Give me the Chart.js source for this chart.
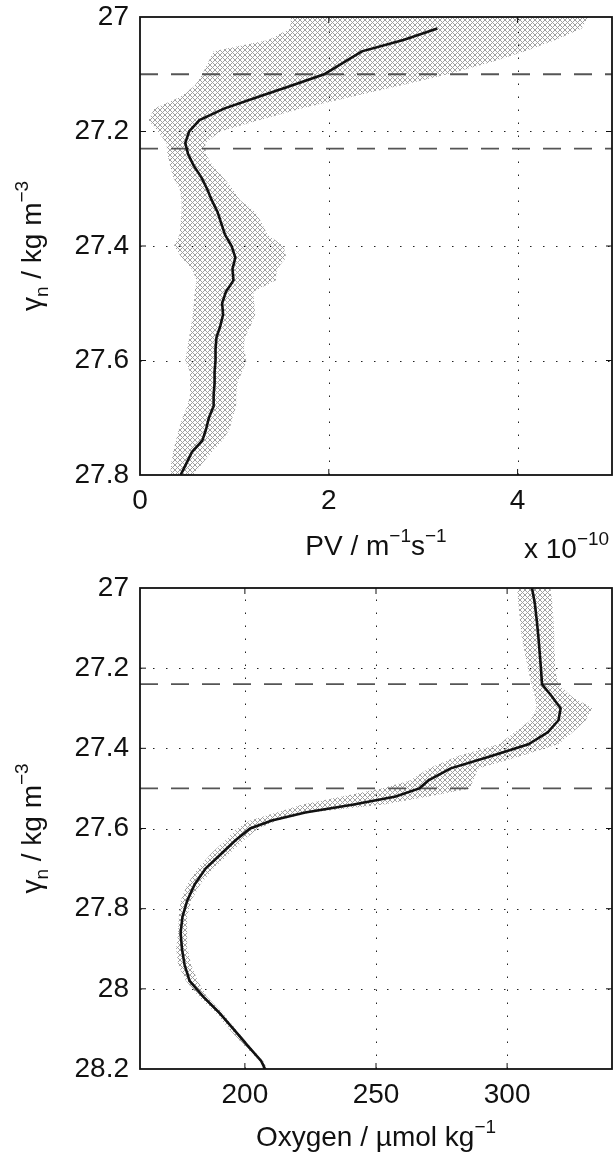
<!DOCTYPE html>
<html>
<head>
<meta charset="utf-8">
<script src="https://cdn.jsdelivr.net/npm/chart.js@4.4.0/dist/chart.umd.min.js"></script>
<style>
  html, body { margin: 0; padding: 0; background: #fff; }
  canvas { position: absolute; left: 0; }
</style>
</head>
<body>
<canvas id="pvChart" width="613" height="560" style="top:0"></canvas>
<canvas id="o2Chart" width="613" height="593" style="top:560px"></canvas>
<script>
const FONT = '"Liberation Sans", Arial, Helvetica, sans-serif';

// top panel: PV against neutral density
const pvGamma = [27.00, 27.02, 27.04, 27.06, 27.08, 27.10, 27.12, 27.14, 27.16, 27.18,
                 27.20, 27.22, 27.24, 27.26, 27.28, 27.30, 27.32, 27.34, 27.36, 27.38,
                 27.40, 27.42, 27.44, 27.46, 27.48, 27.50, 27.52, 27.54, 27.56, 27.58,
                 27.60, 27.62, 27.64, 27.66, 27.68, 27.70, 27.72, 27.74, 27.76, 27.78, 27.80];
const pvMean = [null, 3.15, 2.79, 2.35, 2.15, 1.95, 1.60, 1.24, 0.89, 0.63,
                0.52, 0.48, 0.51, 0.57, 0.65, 0.71, 0.76, 0.82, 0.86, 0.90,
                0.97, 1.01, 0.98, 0.99, 0.91, 0.87, 0.88, 0.85, 0.81, 0.80,
                0.80, 0.79, 0.79, 0.78, 0.78, 0.73, 0.70, 0.66, 0.55, 0.49, 0.43];
const pvLow = [1.60, 1.59, 1.36, 0.78, 0.72, 0.66, 0.58, 0.42, 0.15, 0.09,
               0.19, 0.28, 0.29, 0.32, 0.35, 0.42, 0.44, 0.44, 0.43, 0.42,
               0.36, 0.44, 0.55, 0.60, 0.58, 0.57, 0.56, 0.54, 0.52, 0.50,
               0.48, 0.53, 0.53, 0.53, 0.50, 0.45, 0.41, 0.38, 0.35, 0.33, 0.32];
const pvHigh = [4.75, 4.68, 4.40, 4.08, 3.70, 3.26, 2.75, 2.22, 1.71, 1.27,
                0.85, 0.69, 0.70, 0.77, 0.88, 0.98, 1.06, 1.22, 1.29, 1.35,
                1.52, 1.55, 1.45, 1.44, 1.20, 1.21, 1.22, 1.17, 1.11, 1.10,
                1.13, 1.08, 1.03, 1.02, 1.02, 0.98, 0.95, 0.87, 0.76, 0.66, 0.56];
const pvTicks = [0, 2, 4];
const pvGammaTicks = [27, 27.2, 27.4, 27.6, 27.8];
const pvDashLevels = [27.1, 27.23];

// bottom panel: oxygen against neutral density
const o2Gamma = [27.00, 27.04, 27.08, 27.12, 27.16, 27.20, 27.24, 27.27, 27.30, 27.33,
                 27.36, 27.39, 27.42, 27.45, 27.48, 27.50, 27.52, 27.54, 27.56, 27.58,
                 27.60, 27.63, 27.66, 27.70, 27.74, 27.78, 27.82, 27.86, 27.90, 27.94,
                 27.98, 28.02, 28.06, 28.10, 28.14, 28.18, 28.20];
const o2Mean = [309.5, 310.6, 311.3, 311.9, 312.4, 312.9, 313.3, 317.0, 320.4, 319.6,
                315.5, 308.1, 293.7, 278.5, 270.0, 266.5, 257.5, 241.5, 223.0, 210.3,
                202.0, 196.3, 191.5, 185.0, 180.8, 178.0, 176.2, 175.5, 176.0, 177.0,
                178.9, 184.2, 190.3, 195.6, 200.8, 206.2, 207.7];
const o2Low = [303.8, 304.3, 304.9, 305.5, 306.7, 307.9, 309.3, 310.6, 311.2, 308.9,
               302.9, 296.8, 281.0, 270.0, 263.0, 252.0, 237.0, 222.0, 212.0, 202.0,
               197.0, 192.5, 187.5, 182.0, 178.0, 175.5, 174.8, 174.5, 173.8, 174.5,
               177.5, 182.5, 189.0, 194.0, 199.5, 205.5, 207.0];
const o2High = [316.5, 317.3, 317.7, 318.0, 318.2, 318.3, 319.5, 324.5, 332.5, 330.0,
                325.0, 319.5, 305.0, 289.0, 287.0, 286.0, 270.0, 253.0, 225.0, 212.5,
                205.0, 199.5, 194.5, 188.0, 183.0, 179.5, 178.0, 178.0, 178.2, 179.5,
                182.0, 185.5, 191.5, 196.5, 201.5, 207.0, 208.5];
const o2Ticks = [200, 250, 300];
const o2GammaTicks = [27, 27.2, 27.4, 27.6, 27.8, 28, 28.2];
const o2DashLevels = [27.24, 27.5];

const yTitle = [['\u03b3', 0], ['n', -1], [' / kg m', 0], ['\u22123', 1]];

function hatchPattern() {
    const c = document.createElement('canvas');
    c.width = 5;
    c.height = 5;
    const g = c.getContext('2d');
    const img = g.createImageData(5, 5);
    for (let i = 0; i < 5; i++) {
        for (const j of [i, 4 - i]) {
            const k = (i * 5 + j) * 4;
            img.data[k] = img.data[k + 1] = img.data[k + 2] = 160;
            img.data[k + 3] = 255;
        }
    }
    g.putImageData(img, 0, 0);
    return g.createPattern(c, 'repeat');
}

function profile(gamma, vals) {
    const pts = [];
    gamma.forEach((g, i) => {
        if (vals[i] !== null) pts.push({x: vals[i], y: g});
    });
    return pts;
}

// closed outline: down the low side, back up the high side
function band(gamma, low, high) {
    const left = gamma.map((g, i) => ({x: low[i], y: g}));
    const right = gamma.map((g, i) => ({x: high[i], y: g})).reverse();
    return left.concat(right);
}

function drawRich(ctx, parts, x, y, align) {
    const fontFor = p => (p[1] ? 19 : 28) + 'px ' + FONT;
    let w = 0;
    parts.forEach(p => { ctx.font = fontFor(p); w += ctx.measureText(p[0]).width; });
    let cx = align === 'center' ? x - w / 2 : x;
    ctx.textAlign = 'left';
    ctx.textBaseline = 'alphabetic';
    parts.forEach(p => {
        ctx.font = fontFor(p);
        const dy = p[1] === 1 ? -13 : (p[1] === -1 ? 7 : 0);
        ctx.fillText(p[0], cx, y + dy);
        cx += ctx.measureText(p[0]).width;
    });
}

function framePlugin(cfg) {
    return {
        id: 'frame',
        beforeDatasetsDraw(chart) {
            const {ctx, chartArea: a, scales: {x, y}} = chart;
            ctx.save();
            ctx.strokeStyle = '#222';
            ctx.lineWidth = 1;
            ctx.setLineDash([1.5, 11.5]);
            cfg.xTicks.forEach(v => {
                const px = Math.round(x.getPixelForValue(v)) + 0.5;
                if (px < a.left + 3 || px > a.right - 3) return;
                ctx.beginPath();
                ctx.moveTo(px, a.bottom);
                ctx.lineTo(px, a.top);
                ctx.stroke();
            });
            cfg.yTicks.forEach(v => {
                const py = Math.round(y.getPixelForValue(v)) + 0.5;
                if (py < a.top + 3 || py > a.bottom - 3) return;
                ctx.beginPath();
                ctx.moveTo(a.left, py);
                ctx.lineTo(a.right, py);
                ctx.stroke();
            });
            ctx.restore();
        },
        beforeDatasetDraw(chart, args) {
            if (args.index !== 0) return;
            const {ctx, chartArea: a, scales: {y}} = chart;
            ctx.save();
            ctx.strokeStyle = '#555';
            ctx.lineWidth = 1.8;
            ctx.setLineDash([18, 13]);
            cfg.dashLevels.forEach(v => {
                const py = y.getPixelForValue(v);
                ctx.beginPath();
                ctx.moveTo(a.left, py);
                ctx.lineTo(a.right, py);
                ctx.stroke();
            });
            ctx.restore();
        },
        afterDraw(chart) {
            const {ctx, chartArea: a, scales: {x, y}} = chart;
            ctx.save();
            ctx.strokeStyle = '#111';
            ctx.lineWidth = 1.8;
            ctx.strokeRect(a.left, a.top, a.right - a.left, a.bottom - a.top);
            ctx.lineWidth = 1;
            ctx.beginPath();
            cfg.xTicks.forEach(v => {
                const px = x.getPixelForValue(v);
                if (px < a.left + 3 || px > a.right - 3) return;
                ctx.moveTo(px, a.bottom); ctx.lineTo(px, a.bottom - 6);
                ctx.moveTo(px, a.top); ctx.lineTo(px, a.top + 6);
            });
            cfg.yTicks.forEach(v => {
                const py = y.getPixelForValue(v);
                if (py < a.top + 3 || py > a.bottom - 3) return;
                ctx.moveTo(a.left, py); ctx.lineTo(a.left + 6, py);
                ctx.moveTo(a.right, py); ctx.lineTo(a.right - 6, py);
            });
            ctx.stroke();

            ctx.fillStyle = '#111';
            drawRich(ctx, cfg.xTitle, (a.left + a.right) / 2, cfg.xTitleY, 'center');
            if (cfg.extra) drawRich(ctx, cfg.extra, cfg.extraX, cfg.xTitleY + 3, 'left');
            ctx.translate(41, (a.top + a.bottom) / 2);
            ctx.rotate(-Math.PI / 2);
            drawRich(ctx, yTitle, 0, 0, 'center');
            ctx.restore();
        }
    };
}

function makeChart(id, o) {
    const hatch = hatchPattern();
    const tickFont = {family: FONT, size: 28};
    return new Chart(document.getElementById(id), {
        type: 'scatter',
        data: {
            datasets: [{
                data: profile(o.gamma, o.mean),
                showLine: true,
                borderColor: '#111',
                borderWidth: 2.6,
                pointRadius: 0,
                tension: 0
            }, {
                data: band(o.gamma, o.low, o.high),
                showLine: true,
                borderWidth: 0,
                borderColor: 'rgba(0,0,0,0)',
                backgroundColor: hatch,
                fill: 'shape',
                pointRadius: 0
            }]
        },
        options: {
            responsive: false,
            devicePixelRatio: 1,
            animation: false,
            events: [],
            layout: {padding: {top: o.padTop, right: 1, left: 0, bottom: 0}},
            plugins: {legend: {display: false}, tooltip: {enabled: false}},
            scales: {
                x: {
                    type: 'linear',
                    min: o.xMin,
                    max: o.xMax,
                    afterBuildTicks: s => { s.ticks = o.xTicks.map(v => ({value: v})); },
                    afterFit: s => {
                        s.height = o.xAxisHeight;
                        s.paddingLeft = 0;
                        s.paddingRight = 0;
                    },
                    ticks: {font: tickFont, color: '#111', padding: 9, maxRotation: 0,
                            autoSkip: false, callback: v => String(v)},
                    grid: {display: false, drawTicks: false},
                    border: {display: false}
                },
                y: {
                    type: 'linear',
                    reverse: true,
                    min: o.yTicks[0],
                    max: o.yTicks[o.yTicks.length - 1],
                    afterBuildTicks: s => { s.ticks = o.yTicks.map(v => ({value: v})); },
                    afterFit: s => {
                        s.width = 140;
                        s.paddingTop = 0;
                        s.paddingBottom = 0;
                    },
                    ticks: {font: tickFont, color: '#111', padding: 11,
                            autoSkip: false, callback: v => String(v)},
                    grid: {display: false, drawTicks: false},
                    border: {display: false}
                }
            }
        },
        plugins: [framePlugin({
            xTicks: o.xTicks,
            yTicks: o.yTicks,
            dashLevels: o.dashLevels,
            xTitle: o.xTitle,
            xTitleY: o.xTitleY,
            extra: o.extra,
            extraX: o.extraX
        })]
    });
}

makeChart('pvChart', {
    gamma: pvGamma, mean: pvMean, low: pvLow, high: pvHigh,
    xMin: 0, xMax: 5, xTicks: pvTicks, yTicks: pvGammaTicks, dashLevels: pvDashLevels,
    padTop: 17, xAxisHeight: 85,
    xTitle: [['PV / m', 0], ['\u22121', 1], ['s', 0], ['\u22121', 1]],
    xTitleY: 555,
    extra: [['x 10', 0], ['\u221210', 1]],
    extraX: 524
});

makeChart('o2Chart', {
    gamma: o2Gamma, mean: o2Mean, low: o2Low, high: o2High,
    xMin: 160, xMax: 340, xTicks: o2Ticks, yTicks: o2GammaTicks, dashLevels: o2DashLevels,
    padTop: 28, xAxisHeight: 84,
    xTitle: [['Oxygen / \u00b5mol kg', 0], ['\u22121', 1]],
    xTitleY: 586
});
</script>
</body>
</html>
